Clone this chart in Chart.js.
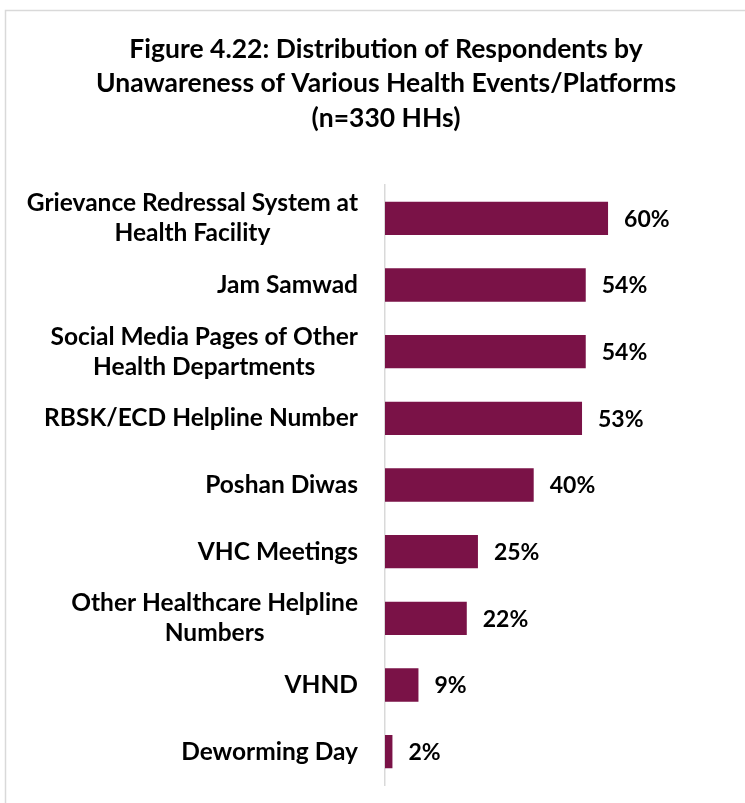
<!DOCTYPE html>
<html>
<head>
<meta charset="utf-8">
<script src="https://cdn.jsdelivr.net/npm/chart.js@4"></script>
<style>
    html, body { margin: 0; padding: 0; background: #fff; overflow: hidden; }
    #wrap { width: 745px; height: 803px; position: relative; }
</style>
</head>
<body>
<div id="wrap"><canvas id="unaware"></canvas></div>
<script>
const categories = [
    ['Grievance Redressal System at', 'Health Facility'],
    ['Jam Samwad'],
    ['Social Media Pages of Other', 'Health Departments'],
    ['RBSK/ECD Helpline Number'],
    ['Poshan Diwas'],
    ['VHC Meetings'],
    ['Other Healthcare Helpline', 'Numbers'],
    ['VHND'],
    ['Deworming Day']
];
const unawarePct = [60, 54, 54, 53, 40, 25, 22, 9, 2];
const titleLines = [
    'Figure 4.22: Distribution of Respondents by',
    'Unawareness of Various Health Events/Platforms',
    '(n=330 HHs)'
];

const FONT = 'Lato, "Open Sans", sans-serif';

document.addEventListener("DOMContentLoaded", function () {

    // outer frame, title and the wrapped category labels
    let decorPlugin = {
        id: 'decor',
        beforeDraw(chart) {
            let ctx = chart.ctx;
            ctx.save();
            ctx.strokeStyle = '#d9d9d9';
            ctx.lineWidth = 1.5;
            ctx.strokeRect(5.5, 10.5, 900, 900);
            ctx.restore();
        },
        afterDraw(chart) {
            let ctx = chart.ctx;
            ctx.save();
            ctx.fillStyle = '#000';
            ctx.textBaseline = 'middle';
            ctx.textAlign = 'center';
            ctx.font = 'bold 26.5px ' + FONT;
            titleLines.forEach(function (line, i) {
                ctx.fillText(line, 386, 49 + i * 34.5);
            });

            let yScale = chart.scales.y;
            ctx.font = 'bold 24.5px ' + FONT;
            let right = 358;
            categories.forEach(function (lines, i) {
                let cy = yScale.getPixelForValue(i);
                let widest = Math.max.apply(null, lines.map(l => ctx.measureText(l).width));
                let cx = right - widest / 2;
                let lh = 30;
                let y0 = cy - (lines.length - 1) * lh / 2;
                lines.forEach(function (l, j) {
                    ctx.fillText(l, cx, y0 + j * lh);
                });
            });
            ctx.restore();
        }
    };

    // percentage labels at the end of each bar
    let valueLabels = {
        id: 'valueLabels',
        afterDatasetsDraw(chart) {
            let ctx = chart.ctx;
            let meta = chart.getDatasetMeta(0);
            ctx.save();
            ctx.fillStyle = '#000';
            ctx.font = 'bold 23px ' + FONT;
            ctx.textAlign = 'left';
            ctx.textBaseline = 'middle';
            meta.data.forEach(function (bar, i) {
                ctx.fillText(unawarePct[i] + '%', bar.x + 16, bar.y + 1);
            });
            ctx.restore();
        }
    };

    new Chart(document.getElementById('unaware'), {
        type: 'bar',
        data: {
            labels: categories,
            datasets: [{
                data: unawarePct,
                backgroundColor: '#7a1247',
                borderWidth: 0,
                categoryPercentage: 1,
                barPercentage: 0.5
            }]
        },
        options: {
            indexAxis: 'y',
            responsive: true,
            maintainAspectRatio: false,
            animation: false,
            layout: {
                padding: { left: 377, right: 62.6, top: 185, bottom: 18 }
            },
            plugins: {
                legend: { display: false },
                tooltip: { enabled: false }
            },
            scales: {
                x: {
                    display: false,
                    min: 0,
                    max: 80
                },
                y: {
                    grid: { display: false },
                    ticks: { display: false },
                    border: { display: true, color: '#d9d9d9', width: 1.5 }
                }
            }
        },
        plugins: [decorPlugin, valueLabels]
    });
});
</script>
</body>
</html>
